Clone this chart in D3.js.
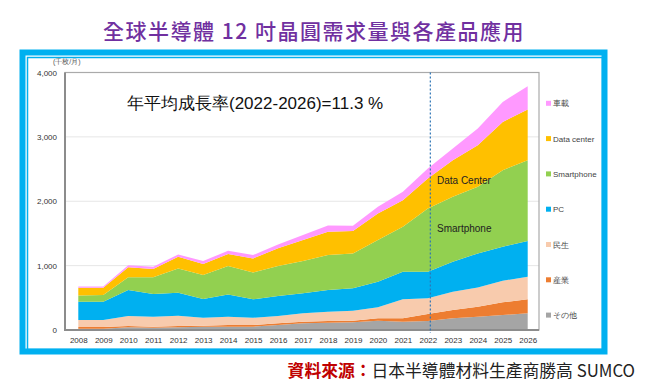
<!DOCTYPE html>
<html>
<head>
<meta charset="utf-8">
<script src="https://cdn.jsdelivr.net/npm/d3@7/dist/d3.min.js"></script>
<style>
  body { margin: 0; background: #fff; }
  svg { display: block; font-family: "Liberation Sans", Arial, sans-serif; }
</style>
</head>
<body>
<svg id="vis" width="649" height="388"></svg>
<script>
// data (千枚/月)
const years = d3.range(2008, 2027);
const seriesNames = ["その他", "産業", "民生", "PC", "Smartphone", "Data center", "車載"];
const other      = [20, 20, 41, 36, 41, 52, 52, 52, 78, 103, 114, 119, 145, 129, 140, 181, 207, 233, 259];
const industry   = [25, 25, 21, 16, 21, 15, 26, 26, 25, 26, 26, 26, 36, 52, 108, 129, 155, 197, 217];
const consumer   = [110, 110, 155, 155, 160, 124, 129, 113, 114, 130, 144, 155, 171, 295, 244, 285, 300, 335, 351];
const pc         = [285, 285, 404, 352, 357, 290, 346, 285, 311, 310, 337, 347, 398, 429, 413, 465, 528, 528, 554];
const smartphone = [95, 103, 197, 259, 378, 372, 440, 419, 465, 502, 543, 543, 647, 698, 983, 1009, 1034, 1190, 1257];
const dataCenter = [122, 114, 155, 128, 181, 171, 186, 217, 275, 326, 362, 346, 414, 414, 466, 569, 647, 750, 787];
const auto       = [18, 18, 31, 37, 36, 47, 52, 52, 62, 77, 98, 83, 103, 130, 155, 181, 259, 310, 361];
const colors = ["#a5a5a5", "#ed7d31", "#f8cbad", "#00b0f0", "#92d050", "#ffc000", "#ff99ff"];
const yTicks = [0, 1000, 2000, 3000, 4000];

const svg = d3.select("#vis");

// blue frame
svg.append("rect")
  .attr("x", 22.5).attr("y", 52.5).attr("width", 582).attr("height", 299)
  .attr("fill", "none").attr("stroke", "#00b0f0").attr("stroke-width", 6);
svg.append("rect")
  .attr("x", 27.5).attr("y", 57.5).attr("width", 575).attr("height", 292)
  .attr("fill", "none").attr("stroke", "#00b0f0").attr("stroke-width", 1.5);

// title
svg.append("text")
  .attr("x", 314).attr("y", 39)
  .attr("text-anchor", "middle")
  .style("font-family", "'Noto Sans CJK TC', sans-serif")
  .style("font-size", "21px")
  .style("font-weight", "500")
  .style("letter-spacing", "1.5px")
  .attr("fill", "#7030a0")
  .text("全球半導體 12 吋晶圓需求量與各產品應用");

// scales
const x = d3.scaleLinear().domain([2008, 2026]).range([78.3, 527.7]);
const y = d3.scaleLinear().domain([0, 4000]).range([330, 72.5]);
const plot = { left: 65, right: 539, top: 72.5, bottom: 330 };

// gridlines
svg.append("g")
  .selectAll("line")
  .data(yTicks.slice(1, 4))
  .join("line")
  .attr("x1", plot.left).attr("x2", plot.right)
  .attr("y1", d => y(d)).attr("y2", d => y(d))
  .attr("stroke", "#e6e6e6");

// stacked areas
const table = years.map((yr, i) => ({
  year: yr,
  "その他": other[i], "産業": industry[i], "民生": consumer[i], "PC": pc[i],
  "Smartphone": smartphone[i], "Data center": dataCenter[i], "車載": auto[i]
}));
const stack = d3.stack().keys(seriesNames)(table);
const area = d3.area()
  .x(d => x(d.data.year))
  .y0(d => y(d[0]))
  .y1(d => y(d[1]));

svg.append("g")
  .selectAll("path")
  .data(stack)
  .join("path")
  .attr("d", area)
  .attr("fill", (d, i) => colors[i]);

// plot frame
svg.append("rect")
  .attr("x", plot.left).attr("y", plot.top)
  .attr("width", plot.right - plot.left).attr("height", plot.bottom - plot.top)
  .attr("fill", "none").attr("stroke", "#aaaaaa").attr("stroke-width", 1.2);
svg.append("path")
  .attr("d", `M${plot.left},${plot.top}V${plot.bottom}H${plot.right}`)
  .attr("fill", "none").attr("stroke", "#8c8c8c").attr("stroke-width", 2);

// dashed 2022 line
svg.append("line")
  .attr("x1", x(2022.1)).attr("x2", x(2022.1))
  .attr("y1", plot.top).attr("y2", plot.bottom + 3)
  .attr("stroke", "#2e75b6").attr("stroke-width", 1.2)
  .attr("stroke-dasharray", "2,2");

// axes
const yAxis = d3.axisLeft(y).tickValues(yTicks).tickSize(0).tickPadding(8).tickFormat(d3.format(","));
svg.append("g")
  .attr("transform", `translate(${plot.left},0)`)
  .call(yAxis)
  .call(g => g.select(".domain").remove())
  .selectAll("text").style("font-size", "8px").attr("fill", "#333");

const xAxis = d3.axisBottom(x).tickValues(years).tickSize(0).tickPadding(7).tickFormat(d3.format("d"));
svg.append("g")
  .attr("transform", `translate(0,${plot.bottom})`)
  .call(xAxis)
  .call(g => g.select(".domain").remove())
  .selectAll("text").style("font-size", "8px").attr("fill", "#333");

// unit
svg.append("text")
  .attr("x", 53).attr("y", 64)
  .style("font-size", "7px").attr("fill", "#555")
  .text("(千枚/月)");

// growth note
svg.append("text")
  .attr("x", 127).attr("y", 109)
  .style("font-size", "17px").attr("fill", "#111")
  .text("年平均成長率(2022-2026)=11.3 %");

// in-chart labels
svg.append("text").attr("x", 437).attr("y", 184)
  .style("font-size", "10px").attr("fill", "#222").text("Data Center");
svg.append("text").attr("x", 437).attr("y", 232)
  .style("font-size", "10px").attr("fill", "#222").text("Smartphone");

// legend
const legendOrder = seriesNames.slice().reverse();
const lg = svg.append("g")
  .selectAll("g")
  .data(legendOrder)
  .join("g")
  .attr("transform", (d, i) => `translate(546,${103.3 + i * 35.3})`);
lg.append("rect")
  .attr("x", 0).attr("y", -2.5).attr("width", 5).attr("height", 5)
  .attr("fill", d => colors[seriesNames.indexOf(d)]);
lg.append("text")
  .attr("x", 7).attr("y", 3)
  .style("font-size", "8px").attr("fill", "#444")
  .text(d => d);

// source
const src = svg.append("text")
  .attr("x", 635).attr("y", 377)
  .attr("text-anchor", "end")
  .style("font-family", "'Noto Sans CJK TC', sans-serif")
  .style("font-size", "16.8px");
src.append("tspan").attr("fill", "#c00000").style("font-weight", "bold").text("資料來源：");
src.append("tspan").attr("fill", "#222").text("日本半導體材料生產商勝高 SUMCO");
</script>
</body>
</html>
